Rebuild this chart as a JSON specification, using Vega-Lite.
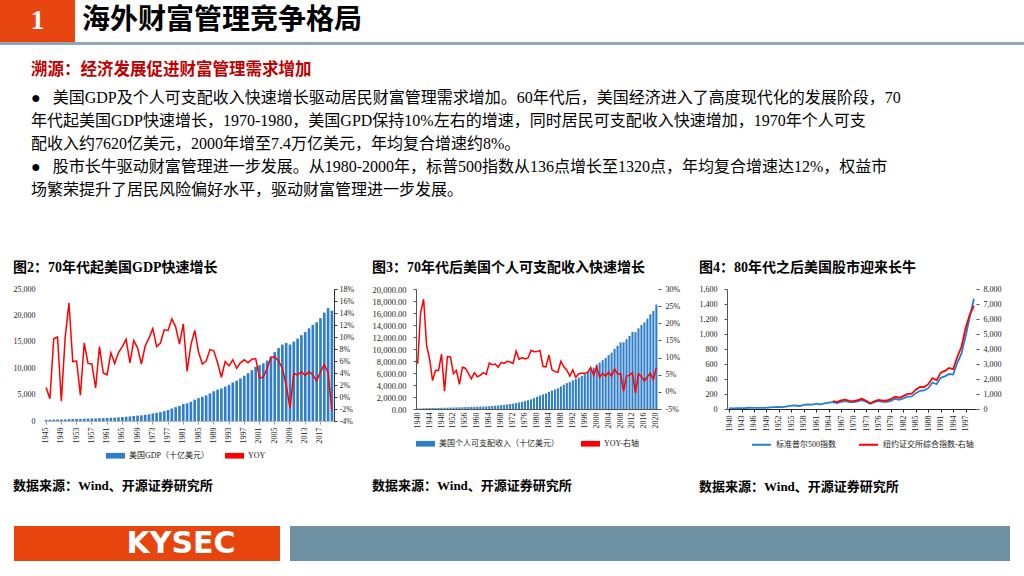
{
  "$schema": "https://vega.github.io/schema/vega-lite/v6.json",
  "padding": 0,
  "background": "#ffffff",
  "spacing": 0,
  "resolve": {"scale": {"color": "independent"}, "legend": {"color": "independent"}},
  "config": {
    "view": {"stroke": null},
    "font": "Liberation Serif, Noto Sans CJK SC",
    "axis": {"labelFont": "Liberation Serif, Noto Sans CJK SC", "labelFontSize": 8, "labelColor": "#222222", "grid": false, "domainColor": "#555555", "tickColor": "#555555", "labelOverlap": false, "title": null},
    "legend": {"labelFont": "Liberation Serif, Noto Sans CJK SC", "labelFontSize": 8, "labelColor": "#222222"},
    "title": {"font": "Liberation Serif, Noto Sans CJK SC", "color": "#000000"}
  },
  "vconcat": [
    {
      "spacing": 2,
      "hconcat": [
        {
          "width": 75, "height": 42,
          "view": {"fill": "#E84610", "stroke": null},
          "data": {"values": [{"t": "1"}]},
          "mark": {"type": "text", "color": "#ffffff", "fontSize": 28, "fontWeight": "bold", "font": "Liberation Serif"},
          "encoding": {"text": {"field": "t"}}
        },
        {
          "width": 290, "height": 42,
          "data": {"values": [{"t": "海外财富管理竞争格局"}]},
          "mark": {"type": "text", "align": "center", "baseline": "middle", "color": "#000000", "fontSize": 28, "fontWeight": "bold", "font": "Liberation Serif, Noto Sans CJK SC"},
          "encoding": {"text": {"field": "t"}}
        }
      ]
    },
    {
      "width": 1024, "height": 3,
      "view": {"fill": "#8EA6B8", "stroke": null},
      "data": {"values": [{}]},
      "mark": {"type": "rect", "opacity": 0},
      "encoding": {},
      "title": {
        "text": "溯源：经济发展促进财富管理需求增加",
        "subtitle": [
          "●\u00a0\u00a0\u00a0美国GDP及个人可支配收入快速增长驱动居民财富管理需求增加。60年代后，美国经济进入了高度现代化的发展阶段，70",
          "\u00a0\u00a0\u00a0\u00a0\u00a0\u00a0年代起美国GDP快速增长，1970-1980，美国GPD保持10%左右的增速，同时居民可支配收入快速增加，1970年个人可支",
          "\u00a0\u00a0\u00a0\u00a0\u00a0\u00a0配收入约7620亿美元，2000年增至7.4万亿美元，年均复合增速约8%。",
          "●\u00a0\u00a0\u00a0股市长牛驱动财富管理进一步发展。从1980-2000年，标普500指数从136点增长至1320点，年均复合增速达12%，权益市",
          "\u00a0\u00a0\u00a0\u00a0\u00a0\u00a0场繁荣提升了居民风险偏好水平，驱动财富管理进一步发展。"
        ],
        "orient": "bottom", "anchor": "start", "frame": "group", "align": "left", "baseline": "top",
        "dx": 31, "offset": 17,
        "fontSize": 16.5, "fontWeight": "bold", "color": "#C00000", "font": "Noto Sans CJK SC",
        "subtitleFont": "Liberation Serif, Noto Sans CJK SC", "subtitleFontSize": 16, "subtitleColor": "#000000", "subtitleLineHeight": 23, "subtitlePadding": 11
      }
    },
    {"width": 10, "height": 63, "data": {"values": [{}]}, "mark": {"type": "rect", "opacity": 0}, "encoding": {}},
    {
      "spacing": 0,
      "resolve": {"scale": {"color": "independent"}, "legend": {"color": "independent"}},
      "hconcat": [
        {"width": 13, "height": 10, "data": {"values": [{}]}, "mark": {"type": "rect", "opacity": 0}, "encoding": {}},
        {
          "spacing": 0,
          "resolve": {"scale": {"color": "independent"}, "legend": {"color": "independent"}},
          "title": {"text": "数据来源：Wind、开源证券研究所", "orient": "bottom", "anchor": "start", "frame": "bounds", "align": "left", "baseline": "top", "offset": 20, "fontSize": 13, "fontWeight": "bold"},
          "vconcat": [
            {
              "width": 290, "height": 132,
              "title": {"text": "图2：70年代起美国GDP快速增长", "anchor": "start", "frame": "bounds", "align": "left", "fontSize": 14, "fontWeight": "bold", "offset": 10},
              "data": {"values": [
                {"year":1945,"gdp":228.0,"yoy":1.6},{"year":1946,"gdp":227.8,"yoy":-0.3},{"year":1947,"gdp":249.9,"yoy":9.7},{"year":1948,"gdp":274.8,"yoy":10.0},{"year":1949,"gdp":272.8,"yoy":-0.7},
                {"year":1950,"gdp":299.8,"yoy":9.9},{"year":1951,"gdp":346.9,"yoy":15.7},{"year":1952,"gdp":367.3,"yoy":5.9},{"year":1953,"gdp":389.2,"yoy":6.0},{"year":1954,"gdp":390.5,"yoy":0.3},
                {"year":1955,"gdp":425.5,"yoy":9.0},{"year":1956,"gdp":449.4,"yoy":5.6},{"year":1957,"gdp":474.0,"yoy":5.5},{"year":1958,"gdp":481.2,"yoy":1.5},{"year":1959,"gdp":521.7,"yoy":8.4},
                {"year":1960,"gdp":542.4,"yoy":4.0},{"year":1961,"gdp":562.2,"yoy":3.7},{"year":1962,"gdp":603.9,"yoy":7.4},{"year":1963,"gdp":637.5,"yoy":5.6},{"year":1964,"gdp":684.5,"yoy":7.4},
                {"year":1965,"gdp":742.3,"yoy":8.4},{"year":1966,"gdp":813.4,"yoy":9.6},{"year":1967,"gdp":860.0,"yoy":5.7},{"year":1968,"gdp":940.7,"yoy":9.4},{"year":1969,"gdp":1017.6,"yoy":8.2},
                {"year":1970,"gdp":1073.3,"yoy":5.5},{"year":1971,"gdp":1164.9,"yoy":8.5},{"year":1972,"gdp":1279.1,"yoy":9.8},{"year":1973,"gdp":1425.4,"yoy":11.4},{"year":1974,"gdp":1545.2,"yoy":8.4},
                {"year":1975,"gdp":1684.9,"yoy":9.0},{"year":1976,"gdp":1873.4,"yoy":11.2},{"year":1977,"gdp":2081.8,"yoy":11.1},{"year":1978,"gdp":2351.6,"yoy":13.0},{"year":1979,"gdp":2627.3,"yoy":11.7},
                {"year":1980,"gdp":2857.3,"yoy":8.8},{"year":1981,"gdp":3207.0,"yoy":12.2},{"year":1982,"gdp":3343.8,"yoy":4.3},{"year":1983,"gdp":3634.0,"yoy":8.7},{"year":1984,"gdp":4037.6,"yoy":11.1},
                {"year":1985,"gdp":4339.0,"yoy":7.5},{"year":1986,"gdp":4579.6,"yoy":5.5},{"year":1987,"gdp":4855.2,"yoy":6.0},{"year":1988,"gdp":5236.4,"yoy":7.9},{"year":1989,"gdp":5641.6,"yoy":7.7},
                {"year":1990,"gdp":5963.1,"yoy":5.7},{"year":1991,"gdp":6158.1,"yoy":3.3},{"year":1992,"gdp":6520.3,"yoy":5.9},{"year":1993,"gdp":6858.6,"yoy":5.2},{"year":1994,"gdp":7287.2,"yoy":6.2},
                {"year":1995,"gdp":7639.7,"yoy":4.8},{"year":1996,"gdp":8073.1,"yoy":5.7},{"year":1997,"gdp":8577.6,"yoy":6.2},{"year":1998,"gdp":9062.8,"yoy":5.7},{"year":1999,"gdp":9631.2,"yoy":6.3},
                {"year":2000,"gdp":10251.0,"yoy":6.4},{"year":2001,"gdp":10581.9,"yoy":3.2},{"year":2002,"gdp":10929.1,"yoy":3.3},{"year":2003,"gdp":11456.5,"yoy":4.8},{"year":2004,"gdp":12217.2,"yoy":6.6},
                {"year":2005,"gdp":13039.2,"yoy":6.7},{"year":2006,"gdp":13815.6,"yoy":6.0},{"year":2007,"gdp":14474.2,"yoy":4.8},{"year":2008,"gdp":14769.9,"yoy":2.0},{"year":2009,"gdp":14478.1,"yoy":-1.8},
                {"year":2010,"gdp":15049.0,"yoy":3.9},{"year":2011,"gdp":15599.7,"yoy":3.7},{"year":2012,"gdp":16254.0,"yoy":4.2},{"year":2013,"gdp":16843.2,"yoy":3.6},{"year":2014,"gdp":17550.7,"yoy":4.2},
                {"year":2015,"gdp":18206.0,"yoy":3.7},{"year":2016,"gdp":18695.1,"yoy":2.7},{"year":2017,"gdp":19477.3,"yoy":4.2},{"year":2018,"gdp":20533.1,"yoy":5.4},{"year":2019,"gdp":21380.9,"yoy":4.1},
                {"year":2020,"gdp":20893.7,"yoy":-2.3}
              ]},
              "encoding": {
                "x": {"field": "year", "type": "ordinal", "scale": {"paddingInner": 0.3, "paddingOuter": 0.2},
                  "axis": {"title": null, "values": [1945,1949,1953,1957,1961,1965,1969,1973,1977,1981,1985,1989,1993,1997,2001,2005,2009,2013,2017], "labelAngle": -90, "labelPadding": 3, "tickSize": 3, "domainColor": "#bbbbbb", "tickColor": "#999999"}}
              },
              "layer": [
                {
                  "mark": {"type": "bar"},
                  "encoding": {
                    "y": {"field": "gdp", "type": "quantitative", "scale": {"domain": [0, 25000], "nice": false},
                      "axis": {"title": null, "values": [0,5000,10000,15000,20000,25000], "format": ",.0f", "domain": false, "ticks": false, "labelPadding": 9}},
                    "color": {"datum": "美国GDP（十亿美元）",
                      "scale": {"domain": ["美国GDP（十亿美元）", "YOY"], "range": ["#2f7ec9", "#ff0000"]},
                      "legend": {"orient": "none", "legendX": 62, "legendY": 157, "direction": "horizontal", "title": null, "symbolSize": 361, "columnPadding": 15, "labelOffset": 4,
                        "encode": {"symbols": {"update": {
                          "shape": {"condition": {"test": "datum.value === 'YOY'", "value": "stroke"}, "value": "M-1,-0.3H1V0.3H-1Z"},
                          "fill": {"condition": {"test": "datum.value === 'YOY'", "value": "transparent"}, "value": "#2f7ec9"},
                          "stroke": {"condition": {"test": "datum.value === 'YOY'", "value": "#ff0000"}, "value": "#2f7ec9"},
                          "strokeWidth": {"condition": {"test": "datum.value === 'YOY'", "value": 2}, "value": 0}
                        }}}}}
                  }
                },
                {
                  "mark": {"type": "line", "strokeWidth": 1.5},
                  "encoding": {
                    "y": {"field": "yoy", "type": "quantitative", "scale": {"domain": [-4, 18], "nice": false, "zero": false},
                      "axis": {"title": null, "orient": "right", "values": [-4,-2,0,2,4,6,8,10,12,14,16,18], "labelExpr": "datum.value + '%'", "tickSize": 3, "domainColor": "#333333", "tickColor": "#333333", "labelPadding": 2}},
                    "color": {"datum": "YOY"}
                  }
                }
              ],
              "resolve": {"scale": {"y": "independent"}}
            }
          ]
        },
        {"width": 18, "height": 10, "data": {"values": [{}]}, "mark": {"type": "rect", "opacity": 0}, "encoding": {}},
        {
          "spacing": 0,
          "resolve": {"scale": {"color": "independent"}, "legend": {"color": "independent"}},
          "title": {"text": "数据来源：Wind、开源证券研究所", "orient": "bottom", "anchor": "start", "frame": "bounds", "align": "left", "baseline": "top", "offset": 32, "fontSize": 13, "fontWeight": "bold"},
          "vconcat": [
            {
              "width": 242, "height": 120,
              "title": {"text": "图3：70年代后美国个人可支配收入快速增长", "anchor": "start", "frame": "bounds", "align": "left", "fontSize": 14, "fontWeight": "bold", "offset": 10},
              "data": {"values": [
                {"year":1940,"dpi":79,"yoy":8.2},{"year":1941,"dpi":97,"yoy":23.2},{"year":1942,"dpi":123,"yoy":27.0},{"year":1943,"dpi":140,"yoy":13.5},{"year":1944,"dpi":153,"yoy":9.6},
                {"year":1945,"dpi":158,"yoy":3.3},{"year":1946,"dpi":168,"yoy":6.3},{"year":1947,"dpi":178,"yoy":6.2},{"year":1948,"dpi":198,"yoy":11.0},{"year":1949,"dpi":198,"yoy":0.2},
                {"year":1950,"dpi":218,"yoy":10.3},{"year":1951,"dpi":240,"yoy":10.2},{"year":1952,"dpi":252,"yoy":5.3},{"year":1953,"dpi":268,"yoy":6.3},{"year":1954,"dpi":274,"yoy":2.2},
                {"year":1955,"dpi":294,"yoy":7.2},{"year":1956,"dpi":314,"yoy":6.9},{"year":1957,"dpi":331,"yoy":5.4},{"year":1958,"dpi":343,"yoy":3.8},{"year":1959,"dpi":362,"yoy":5.6},
                {"year":1960,"dpi":378,"yoy":4.4},{"year":1961,"dpi":396,"yoy":4.8},{"year":1962,"dpi":418,"yoy":5.6},{"year":1963,"dpi":440,"yoy":5.1},{"year":1964,"dpi":476,"yoy":8.4},
                {"year":1965,"dpi":514,"yoy":7.9},{"year":1966,"dpi":555,"yoy":8.1},{"year":1967,"dpi":595,"yoy":7.2},{"year":1968,"dpi":646,"yoy":8.6},{"year":1969,"dpi":700,"yoy":8.3},
                {"year":1970,"dpi":762,"yoy":8.9},{"year":1971,"dpi":825,"yoy":8.7},{"year":1972,"dpi":890,"yoy":8.3},{"year":1973,"dpi":995,"yoy":11.9},{"year":1974,"dpi":1090,"yoy":9.5},
                {"year":1975,"dpi":1200,"yoy":10.0},{"year":1976,"dpi":1315,"yoy":9.6},{"year":1977,"dpi":1445,"yoy":9.9},{"year":1978,"dpi":1620,"yoy":12.1},{"year":1979,"dpi":1810,"yoy":11.7},
                {"year":1980,"dpi":2020,"yoy":11.8},{"year":1981,"dpi":2260,"yoy":12.1},{"year":1982,"dpi":2420,"yoy":7.4},{"year":1983,"dpi":2600,"yoy":7.3},{"year":1984,"dpi":2870,"yoy":10.7},
                {"year":1985,"dpi":3070,"yoy":6.5},{"year":1986,"dpi":3260,"yoy":5.9},{"year":1987,"dpi":3450,"yoy":5.7},{"year":1988,"dpi":3760,"yoy":8.9},{"year":1989,"dpi":4040,"yoy":7.3},
                {"year":1990,"dpi":4300,"yoy":6.3},{"year":1991,"dpi":4490,"yoy":4.6},{"year":1992,"dpi":4780,"yoy":6.4},{"year":1993,"dpi":4980,"yoy":4.2},{"year":1994,"dpi":5240,"yoy":5.3},
                {"year":1995,"dpi":5520,"yoy":5.4},{"year":1996,"dpi":5820,"yoy":5.4},{"year":1997,"dpi":6150,"yoy":5.7},{"year":1998,"dpi":6590,"yoy":7.1},{"year":1999,"dpi":6900,"yoy":4.8},
                {"year":2000,"dpi":7400,"yoy":7.3},{"year":2001,"dpi":7720,"yoy":4.3},{"year":2002,"dpi":8140,"yoy":5.4},{"year":2003,"dpi":8510,"yoy":4.6},{"year":2004,"dpi":8990,"yoy":5.7},
                {"year":2005,"dpi":9400,"yoy":4.6},{"year":2006,"dpi":10030,"yoy":6.7},{"year":2007,"dpi":10550,"yoy":5.2},{"year":2008,"dpi":11100,"yoy":5.3},{"year":2009,"dpi":11120,"yoy":0.2},
                {"year":2010,"dpi":11620,"yoy":4.6},{"year":2011,"dpi":12170,"yoy":4.8},{"year":2012,"dpi":12850,"yoy":5.6},{"year":2013,"dpi":12800,"yoy":-0.3},{"year":2014,"dpi":13450,"yoy":5.3},
                {"year":2015,"dpi":14020,"yoy":4.4},{"year":2016,"dpi":14450,"yoy":3.2},{"year":2017,"dpi":15050,"yoy":4.4},{"year":2018,"dpi":15800,"yoy":5.4},{"year":2019,"dpi":16330,"yoy":3.6},
                {"year":2020,"dpi":17400,"yoy":7.1}
              ]},
              "encoding": {
                "x": {"field": "year", "type": "ordinal", "scale": {"paddingInner": 0.3, "paddingOuter": 0.2},
                  "axis": {"title": null, "values": [1940,1944,1948,1952,1956,1960,1964,1968,1972,1976,1980,1984,1988,1992,1996,2000,2004,2008,2012,2016,2020], "labelAngle": -90, "labelPadding": 3, "ticks": false, "domainColor": "#555555"}}
              },
              "layer": [
                {
                  "mark": {"type": "bar"},
                  "encoding": {
                    "y": {"field": "dpi", "type": "quantitative", "scale": {"domain": [0, 20000], "nice": false},
                      "axis": {"title": null, "values": [0,2000,4000,6000,8000,10000,12000,14000,16000,18000,20000], "format": ",.2f", "labelFontSize": 8.5, "tickSize": 3, "labelPadding": 7}},
                    "color": {"datum": "美国个人可支配收入（十亿美元）",
                      "scale": {"domain": ["美国个人可支配收入（十亿美元）", "YOY-右轴"], "range": ["#2f7ec9", "#ff0000"]},
                      "legend": {"orient": "none", "legendX": 0, "legendY": 145, "direction": "horizontal", "title": null, "symbolSize": 361, "columnPadding": 22, "labelOffset": 4,
                        "encode": {"symbols": {"update": {
                          "shape": {"condition": {"test": "datum.value === 'YOY-右轴'", "value": "stroke"}, "value": "M-1,-0.3H1V0.3H-1Z"},
                          "fill": {"condition": {"test": "datum.value === 'YOY-右轴'", "value": "transparent"}, "value": "#2f7ec9"},
                          "stroke": {"condition": {"test": "datum.value === 'YOY-右轴'", "value": "#ff0000"}, "value": "#2f7ec9"},
                          "strokeWidth": {"condition": {"test": "datum.value === 'YOY-右轴'", "value": 2}, "value": 0}
                        }}}}}
                  }
                },
                {
                  "mark": {"type": "line", "strokeWidth": 1.5},
                  "encoding": {
                    "y": {"field": "yoy", "type": "quantitative", "scale": {"domain": [-5, 30], "nice": false, "zero": false},
                      "axis": {"title": null, "orient": "right", "values": [-5,0,5,10,15,20,25,30], "labelExpr": "datum.value + '%'", "tickSize": 3, "domain": false, "labelPadding": 4}},
                    "color": {"datum": "YOY-右轴"}
                  }
                }
              ],
              "resolve": {"scale": {"y": "independent"}}
            }
          ]
        },
        {"width": 19, "height": 10, "data": {"values": [{}]}, "mark": {"type": "rect", "opacity": 0}, "encoding": {}},
        {
          "spacing": 0,
          "resolve": {"scale": {"color": "independent"}, "legend": {"color": "independent"}},
          "title": {"text": "数据来源：Wind、开源证券研究所", "orient": "bottom", "anchor": "start", "frame": "bounds", "align": "left", "baseline": "top", "offset": 32, "fontSize": 13, "fontWeight": "bold"},
          "vconcat": [
            {
              "width": 249, "height": 120,
              "title": {"text": "图4：80年代之后美国股市迎来长牛", "anchor": "start", "frame": "bounds", "align": "left", "fontSize": 14, "fontWeight": "bold", "offset": 10},
              "data": {"values": [
                {"year":1940,"sp":10.58},{"year":1941,"sp":8.69},{"year":1942,"sp":9.77},{"year":1943,"sp":11.67},{"year":1944,"sp":13.28},
                {"year":1945,"sp":17.36},{"year":1946,"sp":15.30},{"year":1947,"sp":15.30},{"year":1948,"sp":15.20},{"year":1949,"sp":16.76},
                {"year":1950,"sp":20.41},{"year":1951,"sp":23.77},{"year":1952,"sp":26.57},{"year":1953,"sp":24.81},{"year":1954,"sp":35.98},
                {"year":1955,"sp":45.48},{"year":1956,"sp":46.67},{"year":1957,"sp":39.99},{"year":1958,"sp":55.21},{"year":1959,"sp":59.89},
                {"year":1960,"sp":58.11},{"year":1961,"sp":71.55},{"year":1962,"sp":63.10},{"year":1963,"sp":75.02},{"year":1964,"sp":84.75},
                {"year":1965,"sp":92.43,"nyse":528.7},{"year":1966,"sp":80.33,"nyse":462.3},{"year":1967,"sp":96.47,"nyse":569.2},{"year":1968,"sp":103.86,"nyse":622.8},{"year":1969,"sp":92.06,"nyse":544.9},
                {"year":1970,"sp":92.15,"nyse":531.1},{"year":1971,"sp":102.09,"nyse":596.7},{"year":1972,"sp":118.05,"nyse":681.8},{"year":1973,"sp":97.55,"nyse":547.9},{"year":1974,"sp":68.56,"nyse":382.0},
                {"year":1975,"sp":90.19,"nyse":503.7},{"year":1976,"sp":107.46,"nyse":612.0},{"year":1977,"sp":95.10,"nyse":555.1},{"year":1978,"sp":96.11,"nyse":567.0},{"year":1979,"sp":107.94,"nyse":655.0},
                {"year":1980,"sp":135.76,"nyse":823.3},{"year":1981,"sp":122.55,"nyse":751.9},{"year":1982,"sp":140.64,"nyse":856.8},{"year":1983,"sp":164.93,"nyse":1006.4},{"year":1984,"sp":167.24,"nyse":1019.1},
                {"year":1985,"sp":211.28,"nyse":1285.6},{"year":1986,"sp":242.17,"nyse":1465.3},{"year":1987,"sp":247.08,"nyse":1461.6},{"year":1988,"sp":277.72,"nyse":1652.3},{"year":1989,"sp":353.40,"nyse":2062.3},
                {"year":1990,"sp":330.22,"nyse":1908.5},{"year":1991,"sp":417.09,"nyse":2426.1},{"year":1992,"sp":435.71,"nyse":2539.9},{"year":1993,"sp":466.45,"nyse":2739.5},{"year":1994,"sp":459.27,"nyse":2653.4},
                {"year":1995,"sp":615.93,"nyse":3484.2},{"year":1996,"sp":740.74,"nyse":4148.2},{"year":1997,"sp":970.43,"nyse":5405.3},{"year":1998,"sp":1229.23,"nyse":6300.1},{"year":1999,"sp":1469.25,"nyse":6876.1}
              ]},
              "encoding": {
                "x": {"field": "year", "type": "ordinal", "scale": {"paddingInner": 0, "paddingOuter": 0.2},
                  "axis": {"title": null, "values": [1940,1943,1946,1949,1952,1955,1958,1961,1964,1967,1970,1973,1976,1979,1982,1985,1988,1991,1994,1997], "labelAngle": -90, "labelPadding": 3, "tickSize": 3, "domainColor": "#222222", "tickColor": "#222222"}}
              },
              "layer": [
                {
                  "mark": {"type": "line", "strokeWidth": 1.8},
                  "encoding": {
                    "y": {"field": "sp", "type": "quantitative", "scale": {"domain": [0, 1600], "nice": false},
                      "axis": {"title": null, "values": [0,200,400,600,800,1000,1200,1400,1600], "format": ",.0f", "tickSize": 3, "labelPadding": 7}},
                    "color": {"datum": "标准普尔500指数",
                      "scale": {"domain": ["标准普尔500指数", "纽约证交所综合指数-右轴"], "range": ["#1f80d6", "#ff0000"]},
                      "legend": {"orient": "none", "legendX": 24, "legendY": 145, "direction": "horizontal", "title": null, "symbolType": "stroke", "symbolSize": 361, "symbolStrokeWidth": 2, "columnPadding": 19, "labelOffset": 4}}
                  }
                },
                {
                  "mark": {"type": "line", "strokeWidth": 1.8},
                  "encoding": {
                    "y": {"field": "nyse", "type": "quantitative", "scale": {"domain": [0, 8000], "nice": false},
                      "axis": {"title": null, "orient": "right", "values": [0,1000,2000,3000,4000,5000,6000,7000,8000], "format": ",.0f", "tickSize": 3, "domain": false, "labelPadding": 4}},
                    "color": {"datum": "纽约证交所综合指数-右轴"}
                  }
                }
              ],
              "resolve": {"scale": {"y": "independent"}}
            }
          ]
        }
      ]
    },
    {"width": 10, "height": 32, "data": {"values": [{}]}, "mark": {"type": "rect", "opacity": 0}, "encoding": {}},
    {
      "spacing": 10,
      "hconcat": [
        {"width": 4, "height": 35, "data": {"values": [{}]}, "mark": {"type": "rect", "opacity": 0}, "encoding": {}},
        {
          "spacing": 0,
          "hconcat": [
            {"width": 68, "height": 35, "view": {"fill": "#E8450E", "stroke": null}, "data": {"values": [{}]}, "mark": {"type": "rect", "opacity": 0}, "encoding": {}},
            {"width": 198, "height": 35, "view": {"fill": "#E8450E", "stroke": null}, "data": {"values": [{"t": "KYSEC"}]},
             "mark": {"type": "text", "color": "#ffffff", "fontSize": 30, "fontWeight": "bold", "font": "DejaVu Sans"}, "encoding": {"text": {"field": "t"}}}
          ]
        },
        {"width": 720, "height": 35, "view": {"fill": "#6E91A4", "stroke": null}, "data": {"values": [{}]}, "mark": {"type": "rect", "opacity": 0}, "encoding": {}}
      ]
    }
  ]
}
